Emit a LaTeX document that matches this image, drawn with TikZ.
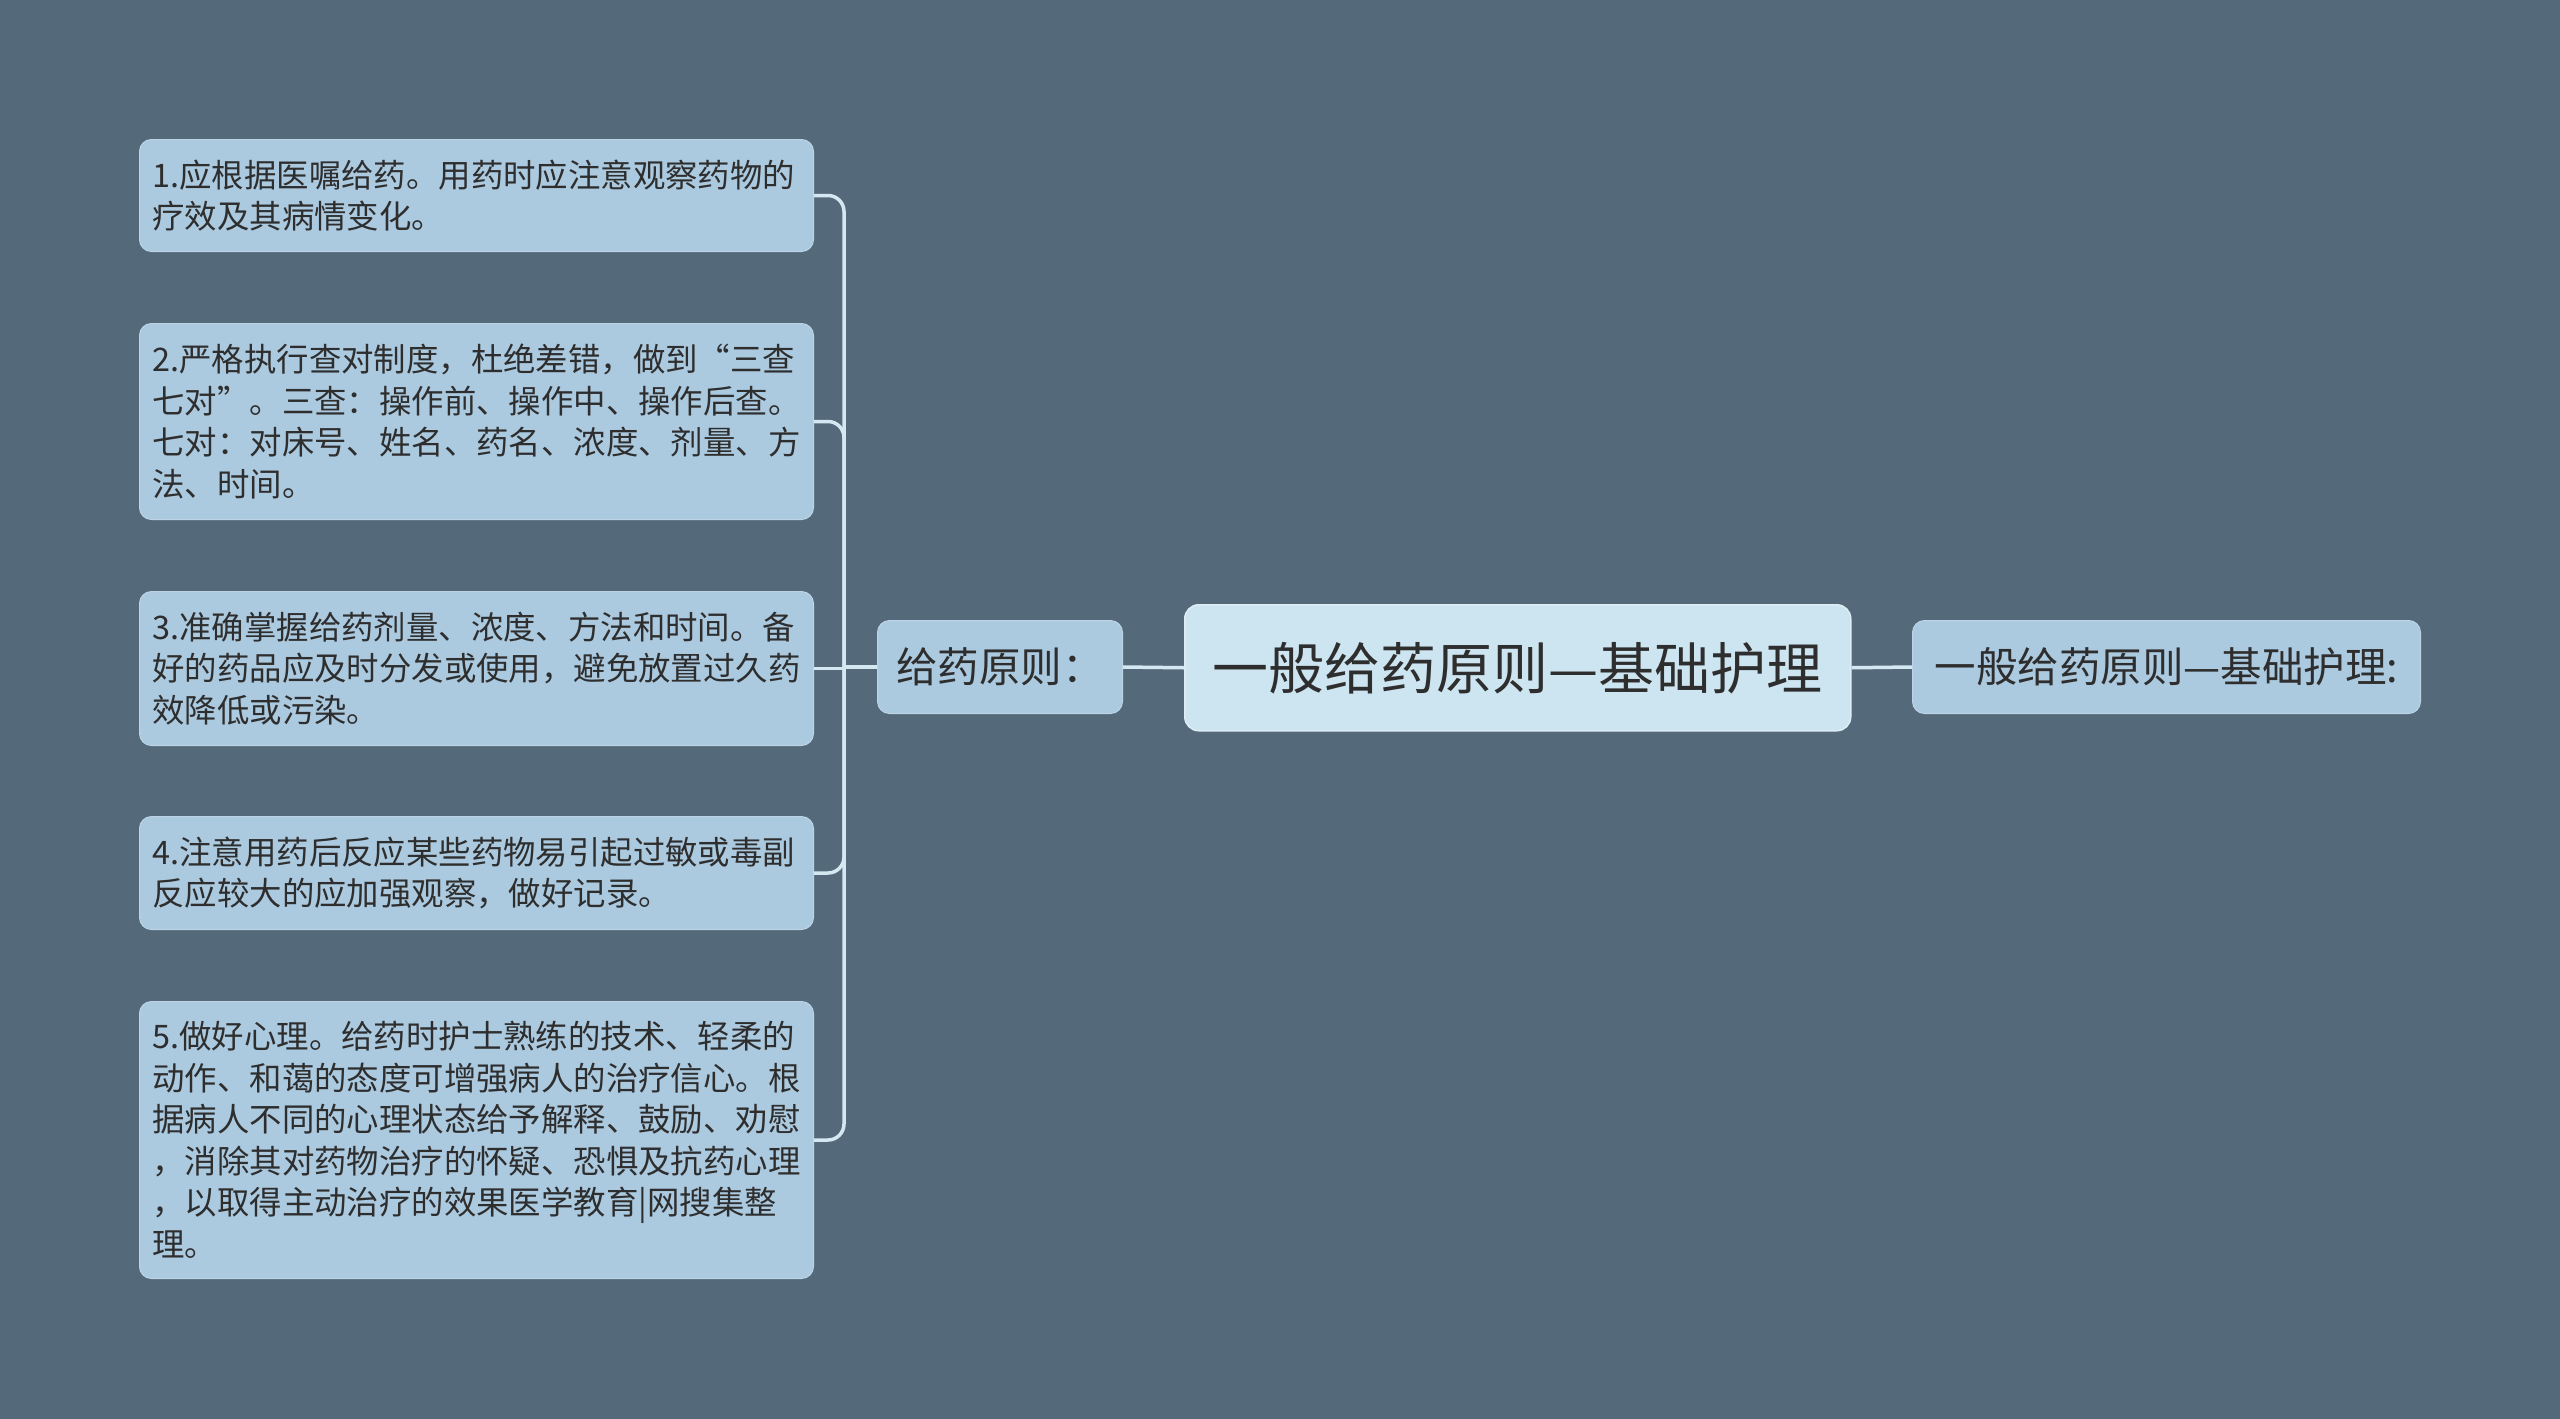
\documentclass[tikz,border=0pt]{standalone}
\usepackage{fontspec}
\setmainfont{Noto Sans CJK SC}
\newfontfamily\cjk{Noto Sans CJK SC}
\definecolor{bg}{HTML}{546A7B}
\definecolor{leaffill}{HTML}{ABC9DF}
\definecolor{rootfill}{HTML}{CDE5F1}
\definecolor{conncol}{HTML}{D4E8F2}
\definecolor{txt}{HTML}{2E2E2E}
\tikzset{
  leaf/.style={rectangle, rounded corners=12pt, fill=leaffill, draw=leaffill!80!white, line width=1pt,
    text=txt, font=\cjk\fontsize{32.4}{41.5}\selectfont, align=left, text width=648pt,
    inner xsep=13pt, inner ysep=0pt, minimum width=674pt, anchor=north west},
  midbox/.style={rectangle, rounded corners=12pt, fill=leaffill, draw=leaffill!80!white, line width=1pt,
    text=txt, font=\cjk\fontsize{41.5}{48}\selectfont, inner sep=0pt, anchor=north west},
  rootbox/.style={rectangle, rounded corners=14pt, fill=rootfill, draw=rootfill!70!white, line width=1.5pt,
    text=txt, font=\cjk\fontsize{56}{64}\selectfont, inner sep=0pt, anchor=north west},
  conn/.style={draw=conncol, line width=3.5pt, rounded corners=16pt}
}
\begin{document}
\begin{tikzpicture}[x=1pt,y=-1pt]
\useasboundingbox (0,0) rectangle (2560,1419);
\fill[bg] (0,0) rectangle (2560,1419);

\node[leaf, minimum height=112pt] (b1) at (139,139) {1.应根据医嘱给药。用药时应注意观察药物的\\疗效及其病情变化。};
\node[leaf, minimum height=196pt] (b2) at (139,323) {2.严格执行查对制度，杜绝差错，做到“三查\\七对”。三查：操作前、操作中、操作后查。\\七对：对床号、姓名、药名、浓度、剂量、方\\法、时间。};
\node[leaf, minimum height=154pt] (b3) at (139,591) {3.准确掌握给药剂量、浓度、方法和时间。备\\好的药品应及时分发或使用，避免放置过久药\\效降低或污染。};
\node[leaf, minimum height=113pt] (b4) at (139,816) {4.注意用药后反应某些药物易引起过敏或毒副\\反应较大的应加强观察，做好记录。};
\node[leaf, minimum height=277pt] (b5) at (139,1001) {5.做好心理。给药时护士熟练的技术、轻柔的\\动作、和蔼的态度可增强病人的治疗信心。根\\据病人不同的心理状态给予解释、鼓励、劝慰\\，消除其对药物治疗的怀疑、恐惧及抗药心理\\，以取得主动治疗的效果医学教育|网搜集整\\理。};

\node[midbox, minimum width=245pt, minimum height=93pt] (g) at (877,620) {给药原则：};
\node[rootbox, minimum width=666pt, minimum height=126pt] (root) at (1184,604) {一般给药原则—基础护理};
\node[midbox, minimum width=508pt, minimum height=93pt] (r) at (1912,620) {一般给药原则—基础护理:};

\coordinate (hub) at (844,667);
\draw[conn] (b1.east) -| (hub);
\draw[conn] (b2.east) -| (hub);
\draw[conn] (b3.east) -- (b3.east -| hub);
\draw[conn] (b4.east) -| (hub);
\draw[conn] (b5.east) -| (hub);
\draw[conn] (hub) -- (g.west);
\draw[conn] (g.east) -- (root.west);
\draw[conn] (root.east) -- (r.west);
\end{tikzpicture}
\end{document}
